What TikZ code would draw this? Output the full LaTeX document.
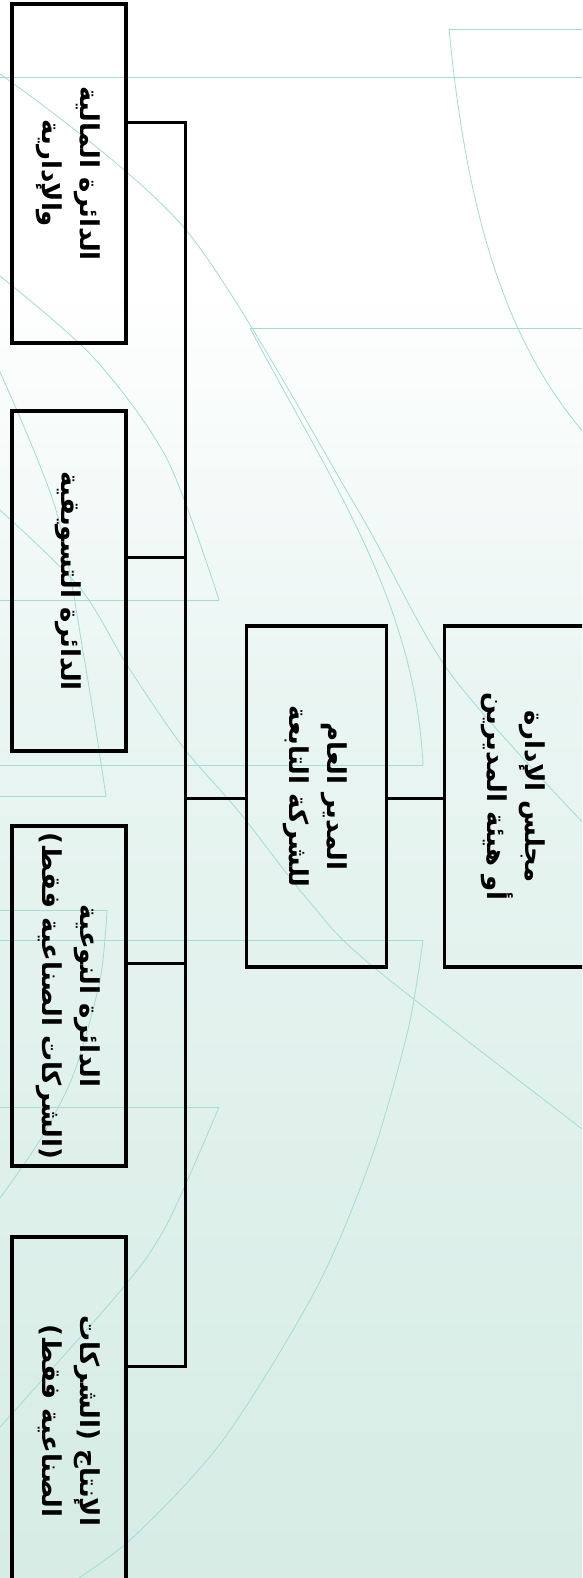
\documentclass[tikz,border=0pt]{standalone}
\usepackage{graphicx}
\usepackage{fontspec}
\newfontfamily\arabicfont[Script=Arabic]{DejaVu Sans}
\TeXXeTstate=1
\definecolor{decoline}{HTML}{A3DCD5}
\definecolor{bgmid}{HTML}{E9F5F2}
\definecolor{bgbot}{HTML}{D6ECE5}
\newcommand{\arl}[1]{\beginR #1\endR}
\newcommand{\boxtxt}[1]{\rotatebox{-90}{\arabicfont\bfseries\fontsize{26}{38}\selectfont\begin{tabular}{c}#1\end{tabular}}}
\tikzset{
  orgbox/.style={draw=black, line width=3.4pt, inner sep=0pt, minimum width=114pt, minimum height=340pt},
  conn/.style={draw=black, line width=3pt},
  deco/.style={draw=decoline, line width=0.8pt}
}
\begin{document}
\begin{tikzpicture}[x=1pt,y=-1pt]
\useasboundingbox (0,0) rectangle (582,1578);
\clip (0,0) rectangle (582,1578);
% background
\fill[white] (0,0) rectangle (582,282);
\shade[top color=white, bottom color=bgmid] (0,280) rectangle (582,702);
\shade[top color=bgmid, bottom color=bgbot] (0,700) rectangle (582,1578);
% decorative lines
\begin{scope}[deco]
\draw (0,77) -- (582,77);
\draw (449,29) -- (582,29);
\draw (449,29) .. controls (470,250) and (520,360) .. (590,440);
\draw (250,328) -- (582,328);
\draw (250,328) .. controls (330,480) and (415,600) .. (423,765);
\draw (0,765) -- (423,765);
\draw (0,940) -- (423,940);
\draw plot[smooth] coordinates {(423,940) (408,1030) (371,1159) (316,1289) (223,1440) (130,1540) (60,1590)};
\draw plot[smooth] coordinates {(0,74) (186,230) (355,505) (450,673) (590,830)};
\draw plot[smooth] coordinates {(0,510) (80,588) (127,665) (183,747) (240,813) (308,900) (371,965) (590,1135)};
\draw plot[smooth] coordinates {(0,372) (56,510) (85,663) (106,796)};
\draw (0,796) -- (106,796);
\draw plot[smooth] coordinates {(0,276) (93,357) (167,459) (219,600)};
\draw (0,600) -- (219,600);
\draw (0,910) -- (107,910);
\draw plot[smooth] coordinates {(107,910) (100,980) (74,1073) (40,1140) (0,1198)};
\draw (0,1107) -- (219,1107);
\draw plot[smooth] coordinates {(219,1107) (167,1224) (122,1289) (0,1427)};
\end{scope}
% boxes
\node[orgbox, minimum width=140pt, minimum height=341pt] (b1) at (514.5,796.5)
  {\boxtxt{\arl{مجلس الإدارة}\\ \arl{أو هيئة المديرين}}};
\node[orgbox, minimum width=140pt, minimum height=341pt] (b2) at (316.5,796.5)
  {\boxtxt{\arl{المدير العام}\\ \arl{للشركة التابعة}}};
\node[orgbox, minimum height=339pt] (b3) at (69,173.5)
  {\boxtxt{\arl{الدائرة المالية}\\ \arl{والإدارية}}};
\node[orgbox] (b4) at (69,581)
  {\boxtxt{\arl{الدائرة التسويقية}}};
\node[orgbox] (b5) at (69,996)
  {\boxtxt{\arl{الدائرة النوعية}\\ \arl{(الشركات الصناعية فقط)}}};
\node[orgbox, minimum height=368pt] (b6) at (69,1421)
  {\boxtxt{\arl{الإنتاج (الشركات}\\ \arl{الصناعية فقط)}}};
% connectors
\coordinate (jt) at (185,123);
\coordinate (j4) at (185,557);
\coordinate (jm) at (185,798);
\coordinate (j5) at (185,963);
\coordinate (jb) at (185,1366);
\draw[conn] (b1.west |- jm) -- (b2.east |- jm);
\draw[conn] (b2.west |- jm) -- (jm);
\draw[conn, line join=miter] (b3.east |- jt) -- (jt) -- (jb) -- (b6.east |- jb);
\draw[conn] (j4) -- (b4.east |- j4);
\draw[conn] (j5) -- (b5.east |- j5);
\end{tikzpicture}
\end{document}
